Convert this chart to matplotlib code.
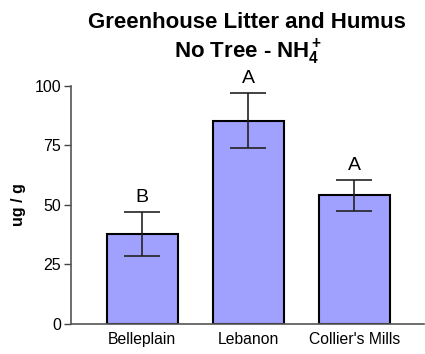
import matplotlib
matplotlib.use('Agg')
import matplotlib.pyplot as plt

plt.rcParams['font.family'] = ['Liberation Sans', 'DejaVu Sans']
plt.rcParams['mathtext.fontset'] = 'custom'
plt.rcParams['mathtext.rm'] = 'Liberation Sans'
plt.rcParams['mathtext.bf'] = 'Liberation Sans:bold'
plt.rcParams['mathtext.default'] = 'bf'

sites = ['Belleplain', 'Lebanon', "Collier's Mills"]
means = [37.8, 85.5, 54.0]
errors = [9.4, 11.6, 6.7]
groups = ['B', 'A', 'A']
yticks = [0, 25, 50, 75, 100]

fig = plt.figure(figsize=(4.25, 3.54), dpi=100)
ax = fig.add_axes([0.167, 0.085, 0.831, 0.672])

x = list(range(len(sites)))
ax.bar(x, means, width=0.67, color='#a0a0ff', edgecolor='black', linewidth=1.5, zorder=2)
ax.errorbar(x, means, yerr=errors, fmt='none', ecolor='#222222', elinewidth=1.2,
            capsize=13, capthick=1.2, zorder=3, clip_on=False)

# significance letters above each error bar
for xi, m, e, g in zip(x, means, errors, groups):
    ax.text(xi, m + e + 2.5, g, ha='center', va='bottom', fontsize=14, clip_on=False)

ax.set_xlim(-0.67, 2.66)
ax.set_ylim(0, 100)
ax.set_yticks(yticks)
ax.set_xticks(x)
ax.set_xticklabels(sites, fontsize=11.3)
ax.tick_params(axis='y', labelsize=11.5, length=5, width=1, color='#444444', pad=2)
ax.tick_params(axis='x', length=0, pad=6)

for side in ['top', 'right']:
    ax.spines[side].set_visible(False)
for side in ['left', 'bottom']:
    ax.spines[side].set_color('#555555')
    ax.spines[side].set_linewidth(1.2)

ax.set_ylabel('ug / g', fontsize=11.5, fontweight='bold', labelpad=6)

fig.text(0.58, 0.937, 'Greenhouse Litter and Humus', ha='center', va='center',
         fontsize=16, fontweight='bold')
fig.text(0.583, 0.852, 'No Tree - NH$_4^+$', ha='center', va='center',
         fontsize=16, fontweight='bold')

fig.savefig('out.png', dpi=100)
